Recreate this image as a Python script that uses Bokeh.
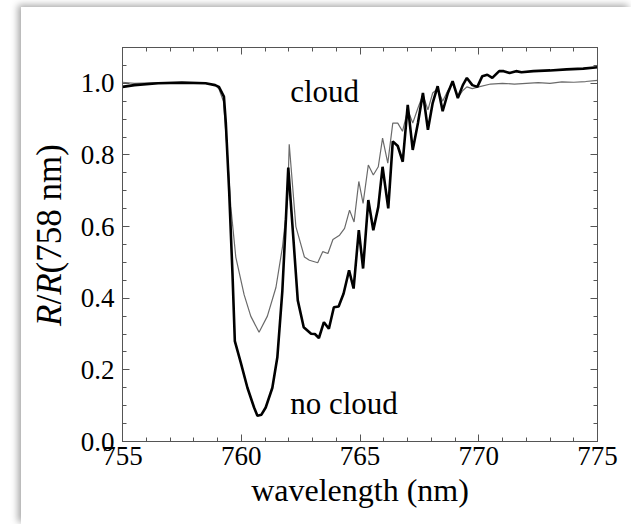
from bokeh.plotting import figure
from bokeh.models import (LinearAxis, FixedTicker, Label, Range1d, PrintfTickFormatter,
                          CustomJSTickFormatter, Div)
from bokeh.layouts import row
from bokeh.embed import file_html
from bokeh.resources import INLINE

# ---- data ----
wl_nocloud = [755.0, 755.5, 756.5, 757.5, 758.5, 758.9, 759.06, 759.27, 759.35, 759.49,
              759.63, 759.73, 759.98, 760.26, 760.54, 760.68, 760.85, 761.03, 761.31, 761.52,
              761.73, 761.88, 761.98, 762.2, 762.38, 762.63, 762.94, 763.1, 763.27, 763.48,
              763.69, 763.9, 764.1, 764.31, 764.54, 764.73, 764.95, 765.13, 765.35, 765.56,
              765.77, 765.95, 766.19, 766.38, 766.59, 766.8, 767.01, 767.22, 767.44, 767.65,
              767.86, 768.06, 768.27, 768.48, 768.7, 768.9, 769.12, 769.33, 769.5, 769.73,
              769.94, 770.15, 770.36, 770.57, 770.86, 771.05, 771.3, 771.57, 771.8, 772.3,
              773.0, 773.7, 774.4, 775.0]
r_nocloud = [0.99, 0.995, 1.0, 1.002, 1.0, 0.995, 0.99, 0.963, 0.89, 0.70,
             0.47, 0.28, 0.22, 0.15, 0.095, 0.072, 0.075, 0.095, 0.15, 0.235,
             0.42, 0.62, 0.765, 0.562, 0.394, 0.319, 0.301, 0.30, 0.289, 0.333,
             0.315, 0.375, 0.377, 0.413, 0.478, 0.427, 0.59, 0.483, 0.674, 0.59,
             0.655, 0.767, 0.651, 0.838, 0.825, 0.781, 0.94, 0.814, 0.889, 0.973,
             0.87, 0.945, 0.992, 0.922, 0.973, 1.006, 0.959, 0.995, 1.015, 0.995,
             0.99, 1.02, 1.024, 1.015, 1.034, 1.034, 1.029, 1.034, 1.031, 1.034,
             1.036, 1.039, 1.041, 1.045]

wl_cloud = [755.0, 755.5, 756.5, 757.5, 758.5, 758.9, 759.06, 759.25, 759.42, 759.56,
            759.77, 760.12, 760.4, 760.75, 761.1, 761.46, 761.74, 761.95, 762.02, 762.3,
            762.66, 762.87, 763.22, 763.43, 763.65, 763.86, 764.14, 764.35, 764.56, 764.75,
            764.95, 765.13, 765.35, 765.56, 765.77, 765.95, 766.17, 766.38, 766.59, 766.79,
            767.01, 767.22, 767.44, 767.65, 767.86, 768.06, 768.27, 768.48, 768.7, 768.9,
            769.12, 769.33, 769.5, 769.73, 770.0, 770.5, 771.0, 771.5, 772.0, 772.5,
            773.0, 773.5, 774.0, 774.5, 775.0]
r_cloud = [1.003, 1.0, 1.002, 1.0, 1.0, 0.995, 0.985, 0.95, 0.80, 0.655,
           0.515, 0.41, 0.35, 0.305, 0.35, 0.43, 0.545, 0.675, 0.83, 0.60,
           0.515, 0.506, 0.499, 0.53, 0.525, 0.564, 0.576, 0.595, 0.646, 0.613,
           0.726, 0.665, 0.772, 0.744, 0.767, 0.847, 0.777, 0.889, 0.889, 0.866,
           0.926, 0.889, 0.931, 0.968, 0.926, 0.973, 0.985, 0.95, 0.98, 1.0,
           0.96, 0.98, 0.99, 0.985, 0.99, 0.998, 1.0, 0.998, 1.0, 1.002,
           1.0, 1.004, 1.003, 1.005, 1.008]

x_major_ticks = [755, 760, 765, 770, 775]
x_minor_ticks = [755, 756, 757, 758, 759, 760, 761, 762, 763, 764, 765, 766, 767, 768,
                 769, 770, 771, 772, 773, 774, 775]
y_major_ticks = [0.0, 0.2, 0.4, 0.6, 0.8, 1.0]
y_minor_ticks = [0.0, 0.05, 0.1, 0.15, 0.2, 0.25, 0.3, 0.35, 0.4, 0.45, 0.5, 0.55, 0.6,
                 0.65, 0.7, 0.75, 0.8, 0.85, 0.9, 0.95, 1.0, 1.05, 1.1]

FONT = "Liberation Serif"
AX = "#555555"

p = figure(width=560, height=517, x_range=Range1d(755, 775), y_range=Range1d(0, 1.1),
           output_backend="svg", toolbar_location=None,
           min_border_left=51, min_border_right=34, min_border_top=40, min_border_bottom=83)
p.margin = 0
p.grid.visible = False
p.outline_line_color = AX
p.outline_line_width = 1
p.background_fill_color = "white"
p.border_fill_color = "white"

xt = FixedTicker(ticks=x_major_ticks, minor_ticks=x_minor_ticks)
yt = FixedTicker(ticks=y_major_ticks, minor_ticks=y_minor_ticks)

def style(ax, ticker, show_labels):
    ax.ticker = ticker
    ax.axis_line_color = AX
    ax.major_tick_in = 7
    ax.major_tick_out = 0
    ax.minor_tick_in = 4
    ax.minor_tick_out = 0
    ax.major_tick_line_color = AX
    ax.minor_tick_line_color = AX
    if show_labels:
        ax.major_label_text_font = FONT
        ax.major_label_text_font_size = "27px"
        ax.major_label_text_color = "black"
    else:
        ax.formatter = CustomJSTickFormatter(code="return ''")
        ax.major_label_standoff = 0

style(p.xaxis[0], xt, True)
style(p.yaxis[0], yt, True)
p.yaxis[0].formatter = PrintfTickFormatter(format="%.1f")
p.xaxis[0].major_label_standoff = 5
p.yaxis[0].major_label_standoff = 8
p.xaxis[0].axis_label = "wavelength (nm)"
p.xaxis[0].axis_label_text_font = FONT
p.xaxis[0].axis_label_text_font_size = "32px"
p.xaxis[0].axis_label_text_font_style = "normal"
p.xaxis[0].axis_label_text_color = "black"
p.xaxis[0].axis_label_standoff = 4

top = LinearAxis()
style(top, xt, False)
p.add_layout(top, "above")
right = LinearAxis()
style(right, yt, False)
p.add_layout(right, "right")

p.line(wl_cloud, r_cloud, line_color="#6a6a6a", line_width=1.2)
p.line(wl_nocloud, r_nocloud, line_color="black", line_width=2.6)

p.add_layout(Label(x=762.06, y=0.977, text="cloud", text_font=FONT, text_font_size="31px",
                   text_baseline="alphabetic", text_color="black"))
p.add_layout(Label(x=762.06, y=0.106, text="no cloud", text_font=FONT, text_font_size="31px",
                   text_baseline="alphabetic", text_color="black"))

# y-axis title (italic R's) as HTML text beside the plot
ylabel_html = (
    '<div style="position:relative;width:50px;height:517px;">'
    '<div style="position:absolute;left:28px;top:228px;'
    'transform:translate(-50%,-50%) rotate(-90deg);white-space:nowrap;'
    "font-family:'Liberation Serif';font-size:35px;line-height:1;color:#000;\">"
    '<i>R</i>/<i>R</i>(758 nm)</div></div>'
)
ylab = Div(text=ylabel_html, width=50, height=517, margin=0)

layout = row(ylab, p)
layout.margin = (7, 0, 0, 21)
layout.styles = {"box-shadow": "-3px -2px 7px rgba(0,0,0,0.35)", "background-color": "white"}

open("out.html", "w").write(file_html(layout, INLINE))
